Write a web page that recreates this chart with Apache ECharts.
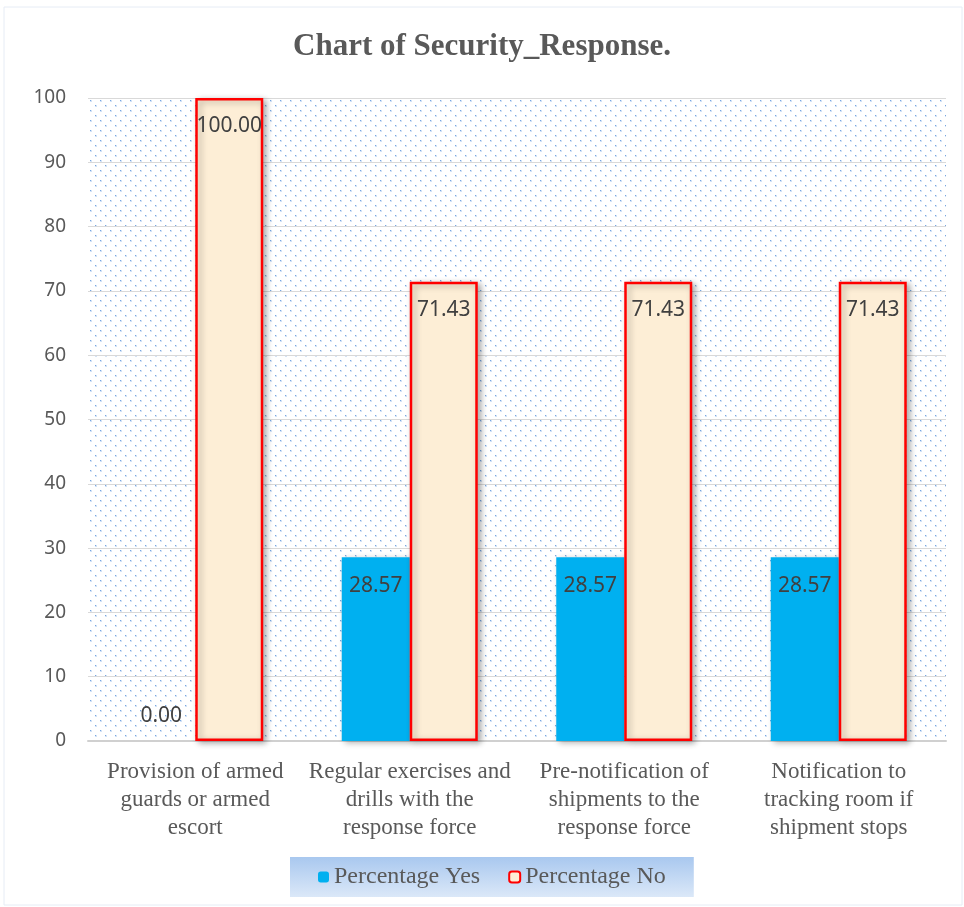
<!DOCTYPE html>
<html>
<head>
<meta charset="utf-8">
<script src="https://cdn.jsdelivr.net/npm/echarts@6/dist/echarts.min.js"></script>
<style>
  html, body { margin: 0; padding: 0; background: #fff; }
  #main { width: 964px; height: 907px; }
</style>
</head>
<body>
<div id="main"></div>
<script>
var categories = [
    'Provision of armed\nguards or armed\nescort',
    'Regular exercises and\ndrills with the\nresponse force',
    'Pre-notification of\nshipments to the\nresponse force',
    'Notification to\ntracking room if\nshipment stops'
];
var yesValues = [0.00, 28.57, 28.57, 28.57];
var noValues = [100.00, 71.43, 71.43, 71.43];
var seriesNames = ['Percentage Yes', 'Percentage No'];

// dotted background like the office pattern fill
function dotPattern() {
    var c = document.createElement('canvas');
    c.width = 10; c.height = 10;
    var ctx = c.getContext('2d');
    ctx.fillStyle = '#fff';
    ctx.fillRect(0, 0, 10, 10);
    ctx.fillStyle = 'rgba(170,200,238,0.5)';
    ctx.fillRect(0, 0, 2, 2);
    ctx.fillRect(5, 5, 2, 2);
    ctx.fillStyle = 'rgba(80,140,215,0.7)';
    ctx.fillRect(0, 0, 1, 1);
    ctx.fillRect(5, 5, 1, 1);
    return c;
}

var myChart = echarts.init(document.getElementById('main'));

var labelFont = 'Noto Sans';

var option = {
    backgroundColor: '#fff',
    animation: false,
    title: {
        text: 'Chart of Security_Response.',
        left: 'center',
        top: 26,
        textStyle: {
            fontFamily: 'Liberation Serif',
            fontWeight: 'bold',
            fontSize: 31,
            color: '#595959'
        }
    },
    graphic: [{
        type: 'rect',
        shape: { x: 4, y: 7, width: 958, height: 898 },
        style: { fill: 'none', stroke: '#e6ecf5', lineWidth: 1 },
        silent: true
    }],
    grid: {
        left: 88,
        right: 18,
        top: 98,
        bottom: 166,
        show: true,
        borderWidth: 0,
        backgroundColor: { image: dotPattern(), repeat: 'repeat' }
    },
    legend: {
        data: seriesNames,
        bottom: 10,
        left: 290,
        itemWidth: 11,
        itemHeight: 11,
        itemGap: 28,
        padding: [8, 28, 8, 28],
        backgroundColor: new echarts.graphic.LinearGradient(0, 0, 0, 1, [
            { offset: 0, color: '#a9c8ef' },
            { offset: 1, color: '#dbe8f8' }
        ]),
        textStyle: {
            fontFamily: 'Liberation Serif',
            fontSize: 24,
            color: '#595959'
        }
    },
    xAxis: {
        type: 'category',
        data: categories,
        axisLine: { show: true, lineStyle: { color: '#d0d0d0', width: 2 } },
        axisTick: { show: false },
        axisLabel: {
            interval: 0,
            margin: 17,
            lineHeight: 28,
            fontFamily: 'Liberation Serif',
            fontSize: 23,
            color: '#595959'
        }
    },
    yAxis: {
        type: 'value',
        min: 0,
        max: 100,
        interval: 10,
        axisLine: { show: false },
        axisTick: { show: false },
        axisLabel: {
            margin: 22,
            fontFamily: labelFont,
            fontSize: 19,
            color: '#595959'
        },
        splitLine: { lineStyle: { color: '#d9d9d9', width: 1 } }
    },
    series: [{
        name: seriesNames[0],
        type: 'bar',
        barWidth: 68,
        barGap: '0%',
        data: yesValues.map(function (v) {
            return v === 0 ? { value: v, label: { position: 'top', distance: 14 } } : v;
        }),
        itemStyle: {
            color: '#00b0f0',
            shadowBlur: 6,
            shadowColor: 'rgba(0,0,0,0.3)',
            shadowOffsetX: 3,
            shadowOffsetY: 2
        },
        label: {
            show: true,
            position: 'insideTop',
            distance: 18,
            formatter: function (p) { return p.value.toFixed(2); },
            fontFamily: labelFont,
            fontSize: 21,
            color: '#404040'
        }
    }, {
        name: seriesNames[1],
        type: 'bar',
        barWidth: 68,
        data: noValues,
        itemStyle: {
            color: '#fdeed6',
            borderColor: '#ff0000',
            borderWidth: 2.5,
            shadowBlur: 6,
            shadowColor: 'rgba(0,0,0,0.3)',
            shadowOffsetX: 3,
            shadowOffsetY: 2
        },
        label: {
            show: true,
            position: 'insideTop',
            distance: 18,
            formatter: function (p) { return p.value.toFixed(2); },
            fontFamily: labelFont,
            fontSize: 21,
            color: '#404040'
        }
    }]
};

myChart.setOption(option);
window.addEventListener('resize', function () {
    myChart.resize();
});
</script>
</body>
</html>
